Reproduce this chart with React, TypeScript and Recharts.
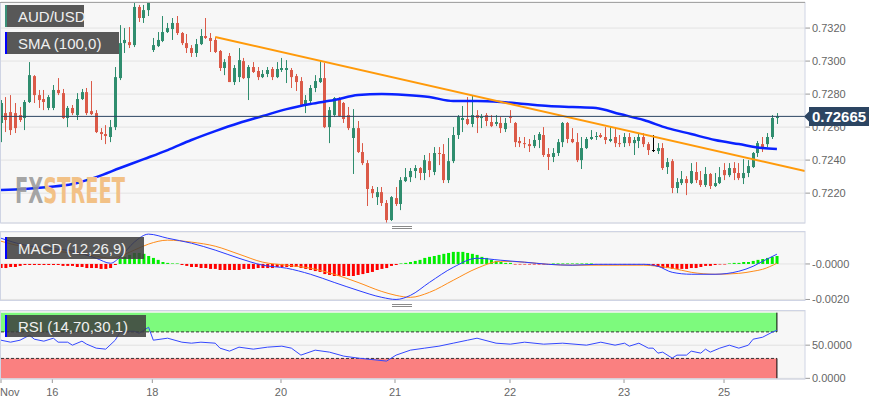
import React from 'react';
import { ComposedChart, Bar, Line, XAxis, YAxis, CartesianGrid, ReferenceLine, ReferenceArea, Cell } from 'recharts';

// [open, high, low, close] hourly candles, AUD/USD
const candles: number[][] = [
  [0.72625,0.72764,0.72509,0.72746],[0.72685,0.72782,0.72570,0.72643],[0.72691,0.72794,0.72552,0.72582],[0.72685,0.72746,0.72564,0.72594],
  [0.72673,0.72722,0.72631,0.72643],[0.72655,0.72764,0.72582,0.72752],[0.72752,0.72994,0.72746,0.72915],[0.72909,0.72915,0.72746,0.72794],
  [0.72794,0.72825,0.72716,0.72764],[0.72770,0.72825,0.72703,0.72752],[0.72716,0.72794,0.72703,0.72782],[0.72716,0.72855,0.72703,0.72825],
  [0.72825,0.72897,0.72794,0.72806],[0.72806,0.72831,0.72649,0.72655],[0.72655,0.72728,0.72600,0.72716],[0.72716,0.72734,0.72673,0.72685],
  [0.72673,0.72806,0.72643,0.72770],[0.72770,0.72831,0.72764,0.72812],[0.72812,0.72837,0.72673,0.72685],[0.72697,0.72879,0.72673,0.72679],
  [0.72685,0.72703,0.72564,0.72570],[0.72570,0.72594,0.72522,0.72558],[0.72558,0.72612,0.72497,0.72546],[0.72540,0.72643,0.72509,0.72600],
  [0.72600,0.72964,0.72582,0.72903],[0.72897,0.73218,0.72885,0.73109],[0.73109,0.73200,0.73049,0.73128],[0.73115,0.73206,0.73079,0.73097],
  [0.73097,0.73352,0.73085,0.73328],[0.73328,0.73340,0.73237,0.73261],[0.73261,0.73340,0.73231,0.73309],[0.73309,0.73358,0.73273,0.73352],
  [0.73067,0.73140,0.73055,0.73097],[0.73091,0.73176,0.73085,0.73128],[0.73122,0.73273,0.73115,0.73176],[0.73176,0.73231,0.73170,0.73200],
  [0.73194,0.73261,0.73128,0.73231],[0.73231,0.73273,0.73158,0.73170],[0.73170,0.73176,0.73097,0.73109],[0.73109,0.73164,0.73049,0.73079],
  [0.73079,0.73097,0.73025,0.73049],[0.73049,0.73134,0.73025,0.73103],[0.73103,0.73194,0.73097,0.73152],[0.73152,0.73261,0.73134,0.73140],
  [0.73140,0.73170,0.73055,0.73122],[0.73128,0.73146,0.73049,0.73055],[0.73061,0.73067,0.72940,0.72958],[0.72958,0.73012,0.72915,0.72994],
  [0.73031,0.73049,0.72873,0.72873],[0.72873,0.72976,0.72855,0.72958],[0.72903,0.73079,0.72873,0.73006],[0.73000,0.73019,0.72891,0.72897],
  [0.72897,0.72976,0.72764,0.72964],[0.72964,0.72994,0.72928,0.72934],[0.72940,0.72964,0.72885,0.72903],[0.72903,0.72946,0.72897,0.72922],
  [0.72922,0.72964,0.72903,0.72946],[0.72952,0.72964,0.72885,0.72903],[0.72903,0.72994,0.72897,0.72952],[0.72946,0.73019,0.72934,0.72958],
  [0.72946,0.73006,0.72867,0.72958],[0.72946,0.72958,0.72837,0.72903],[0.72909,0.72922,0.72819,0.72873],[0.72879,0.72903,0.72722,0.72734],
  [0.72734,0.72794,0.72685,0.72764],[0.72758,0.72855,0.72746,0.72837],[0.72837,0.72915,0.72812,0.72879],[0.72873,0.73006,0.72867,0.72897],
  [0.72897,0.72988,0.72594,0.72600],[0.72600,0.72722,0.72503,0.72703],[0.72673,0.72782,0.72661,0.72776],[0.72776,0.72782,0.72661,0.72667],
  [0.72746,0.72752,0.72625,0.72649],[0.72673,0.72722,0.72582,0.72594],[0.72534,0.72709,0.72316,0.72594],[0.72594,0.72637,0.72443,0.72449],
  [0.72449,0.72503,0.72370,0.72382],[0.72382,0.72400,0.72122,0.72225],[0.72225,0.72243,0.72170,0.72200],[0.72176,0.72237,0.72128,0.72206],
  [0.72206,0.72237,0.72122,0.72140],[0.72140,0.72158,0.72019,0.72037],[0.72037,0.72182,0.72031,0.72176],[0.72170,0.72237,0.72122,0.72134],
  [0.72134,0.72297,0.72097,0.72279],[0.72273,0.72352,0.72267,0.72297],[0.72297,0.72352,0.72267,0.72334],[0.72334,0.72370,0.72291,0.72352],
  [0.72352,0.72358,0.72279,0.72322],[0.72322,0.72431,0.72279,0.72400],[0.72394,0.72443,0.72297,0.72340],[0.72328,0.72479,0.72309,0.72443],
  [0.72443,0.72479,0.72370,0.72437],[0.72437,0.72497,0.72261,0.72279],[0.72279,0.72534,0.72261,0.72394],[0.72394,0.72600,0.72382,0.72552],
  [0.72552,0.72673,0.72528,0.72661],[0.72643,0.72728,0.72570,0.72655],[0.72649,0.72782,0.72612,0.72619],[0.72619,0.72794,0.72600,0.72673],
  [0.72673,0.72703,0.72564,0.72655],[0.72655,0.72679,0.72594,0.72661],[0.72673,0.72685,0.72606,0.72637],[0.72631,0.72673,0.72600,0.72606],
  [0.72619,0.72673,0.72606,0.72631],[0.72625,0.72661,0.72564,0.72594],[0.72588,0.72655,0.72570,0.72625],[0.72661,0.72703,0.72625,0.72655],
  [0.72625,0.72631,0.72479,0.72509],[0.72516,0.72540,0.72479,0.72503],[0.72503,0.72540,0.72473,0.72497],[0.72497,0.72528,0.72449,0.72485],
  [0.72485,0.72552,0.72473,0.72522],[0.72522,0.72570,0.72473,0.72558],[0.72552,0.72600,0.72419,0.72431],[0.72437,0.72473,0.72340,0.72419],
  [0.72419,0.72473,0.72388,0.72443],[0.72443,0.72528,0.72425,0.72509],[0.72509,0.72631,0.72479,0.72625],[0.72625,0.72631,0.72503,0.72528],
  [0.72528,0.72594,0.72503,0.72509],[0.72509,0.72564,0.72388,0.72400],[0.72400,0.72540,0.72346,0.72473],[0.72473,0.72540,0.72467,0.72528],
  [0.72528,0.72582,0.72522,0.72540],[0.72540,0.72570,0.72522,0.72546],[0.72552,0.72564,0.72534,0.72540],[0.72540,0.72600,0.72497,0.72522],
  [0.72516,0.72600,0.72509,0.72528],[0.72540,0.72594,0.72479,0.72503],[0.72503,0.72552,0.72479,0.72497],[0.72503,0.72564,0.72479,0.72540],
  [0.72540,0.72564,0.72485,0.72503],[0.72503,0.72540,0.72431,0.72522],[0.72516,0.72564,0.72473,0.72540],[0.72540,0.72564,0.72479,0.72497],
  [0.72497,0.72509,0.72431,0.72461],[0.72461,0.72552,0.72449,0.72461],[0.72455,0.72503,0.72437,0.72473],[0.72473,0.72503,0.72340,0.72352],
  [0.72358,0.72413,0.72316,0.72388],[0.72394,0.72406,0.72200,0.72231],[0.72231,0.72291,0.72200,0.72267],[0.72261,0.72334,0.72249,0.72285],
  [0.72285,0.72303,0.72188,0.72261],[0.72261,0.72382,0.72255,0.72334],[0.72328,0.72388,0.72261,0.72279],[0.72279,0.72334,0.72237,0.72249],
  [0.72249,0.72358,0.72237,0.72316],[0.72316,0.72322,0.72225,0.72243],[0.72243,0.72322,0.72237,0.72261],[0.72261,0.72358,0.72255,0.72297],
  [0.72340,0.72382,0.72279,0.72309],[0.72309,0.72382,0.72297,0.72352],[0.72352,0.72388,0.72279,0.72322],[0.72322,0.72382,0.72279,0.72291],
  [0.72291,0.72406,0.72255,0.72322],[0.72322,0.72400,0.72297,0.72364],[0.72358,0.72449,0.72352,0.72443],[0.72443,0.72516,0.72419,0.72503],
  [0.72497,0.72540,0.72449,0.72467],[0.72497,0.72564,0.72479,0.72540],[0.72540,0.72673,0.72528,0.72655],[0.72655,0.72685,0.72619,0.72665],
];

const smaIdx = [0,5,10,15,20,25,30,35,40,45,50,55,60,65,70,75,80,85,90,95,100,105,110,115,120,125,130,135,140,145,150,155,160,163];
const smaVals = [0.72219,0.72225,0.72237,0.72255,0.72297,0.72352,0.72406,0.72461,0.72522,0.72576,0.72625,0.72667,0.72709,0.72740,0.72764,0.72794,0.72800,0.72794,0.72782,0.72758,0.72758,0.72752,0.72740,0.72728,0.72722,0.72716,0.72679,0.72643,0.72594,0.72558,0.72522,0.72497,0.72473,0.72467];

const trendIdx = [45, 168.9];
const trendVals = [0.73146, 0.72334];

const lastPrice = 0.72665;

const macdIdx = [0,5,10,15,20,23,25,28,31,35,40,45,50,55,60,65,70,75,80,83,86,90,95,100,105,110,115,120,125,130,135,138,141,145,150,155,158,160,163];
const macdVals = [0.00145,0.00106,0.00089,0.00072,0.00032,0.00004,0.00038,0.00123,0.00168,0.00145,0.00117,0.00078,0.00032,-0.00007,-0.00024,-0.00058,-0.00104,-0.00149,-0.00188,-0.00200,-0.00177,-0.00104,-0.00019,0.00032,0.00021,0.0001,-0.00002,-0.00007,-0.00002,-0.00002,-0.00002,-0.00013,-0.00047,-0.00058,-0.00058,-0.00041,-0.00013,0.00015,0.00055];
const signalVals = [0.00128,0.00095,0.00078,0.00061,0.00044,0.00032,0.00044,0.00078,0.00112,0.00134,0.00123,0.001,0.00055,0.0001,-0.00007,-0.00024,-0.00058,-0.00104,-0.00155,-0.00177,-0.00188,-0.0016,-0.00092,-0.00024,0.00015,0.0001,-0.00002,-0.00007,-0.00007,-0.00007,-0.00007,-0.00013,-0.00024,-0.00047,-0.00058,-0.00053,-0.00041,-0.0003,0.00004];
const histVals = [
  -0.00023,-0.00023,-0.00017,-0.00017,-0.00011,
  -0.00006,-0.00006,-0.00006,-0.00006,-0.00006,-0.00006,-0.00006,-0.00006,
  -0.00011,-0.00011,-0.00011,-0.00017,-0.00017,-0.00023,-0.00023,-0.00023,-0.00028,-0.00028,-0.00023,
  -0.00006,
  0.00028,0.0004,0.00051,0.00062,0.00062,0.00057,0.00045,0.00034,0.00023,0.00011,0.00006,0.00003,0.00003,
  -0.00006,-0.00011,-0.00017,-0.00017,-0.00023,-0.00023,-0.00028,-0.00028,-0.00034,-0.00034,-0.00034,
  -0.00034,-0.00034,-0.00028,-0.00028,-0.00028,-0.00023,-0.00023,-0.00023,-0.00023,-0.00017,-0.00017,-0.00017,-0.00017,-0.00017,
  -0.00023,-0.00028,-0.00034,-0.0004,-0.00045,-0.00057,-0.00062,-0.00068,-0.00068,-0.00068,-0.00068,-0.00068,-0.00062,-0.00057,-0.00051,-0.00045,-0.00034,-0.00028,-0.00023,-0.00011,-0.00006,0.00003,
  0.00006,0.00011,0.00017,0.00023,0.00034,0.0004,0.00045,0.00051,0.00057,0.00062,0.00068,0.00068,0.00068,0.00062,0.00057,0.00051,0.0004,0.00034,0.00023,0.00017,0.00011,0.00006,0.00006,
  -0.00003,-0.00003,-0.00003,-0.00003,-0.00003,-0.00003,-0.00003,-0.00003,
  0.00003,0.00003,0.00003,0.00003,0.00003,0.00003,0.00003,0.00003,0.00003,
  -0.00003,-0.00003,-0.00003,-0.00003,-0.00003,-0.00003,-0.00003,-0.00003,-0.00003,-0.00003,-0.00003,
  -0.00006,-0.00011,-0.00017,-0.00023,-0.00023,-0.00028,-0.00028,-0.00028,-0.00028,-0.00023,-0.00023,-0.00017,-0.00011,-0.00011,-0.00006,-0.00003,-0.00003,
  0.00003,0.00006,0.00006,0.00011,0.00011,0.00017,0.00023,0.00028,0.00034,0.0004,0.00045,
];

const rsiIdx = [0,2,4,6,7,9,11,12,14,15,17,18,20,22,24,25,27,28,29,31,32,35,38,40,42,45,46,48,50,53,56,59,61,63,66,69,72,75,79,81,83,86,89,92,95,98,100,104,107,110,114,118,123,126,129,131,132,134,136,137,138,139,141,142,144,145,147,148,149,151,153,155,157,158,160,162,163];
const rsiVals = [57.5,54.5,57.5,65,59,56,60.5,54.5,54.5,50,56,51.5,45.5,44,57.5,69.5,71,71,68,77,57.5,60.5,54.5,53,54.5,53,45.5,41,47,44,47,48.5,45.5,35,42.5,39.5,33.5,30.5,27.5,26,35,42.5,45.5,48.5,53,57.5,60.5,53,51.5,54.5,51.5,53,50,54.5,50,53,48.5,53,45.5,45.5,38,39.5,30.5,35,35,41,38,44,39.5,45.5,50,45.5,50,59,62,69.5,72.5];

const priceTicks = [0.722, 0.724, 0.726, 0.728, 0.73, 0.732];
const macdTicks = [-0.002, 0];
const macdTickLabels = ['-0.0020', '-0.0000'];
const rsiTicks = [0, 50];
const xTickPos = [0, 10.78, 31.79, 58.82, 82.77, 106.93, 130.88, 151.89];
const xTickLabels = ['Nov', '16', '18', '20', '21', '22', '23', '25'];

const X_DOMAIN: [number, number] = [0, 168.9];
const GREEN = '#2f8d6e';
const RED = '#db5a48';
const FONT = '"Liberation Sans", Arial, Helvetica, sans-serif';

const candleData = candles.map((c, i) => ({ i, o: c[0], h: c[1], l: c[2], c: c[3], range: [c[2], c[1]], hist: histVals[i] }));
const smaData = smaIdx.map((i, k) => ({ i, v: smaVals[k] }));
const trendData = trendIdx.map((i, k) => ({ i, v: trendVals[k] }));
const macdData = macdIdx.map((i, k) => ({ i, v: macdVals[k] }));
const signalData = macdIdx.map((i, k) => ({ i, v: signalVals[k] }));
const rsiData = rsiIdx.map((i, k) => ({ i, v: rsiVals[k] }));

const Candle = (props: any) => {
  const { x, y, width, height, payload } = props;
  if (x == null || y == null) return null;
  const top = Math.min(y, y + height);
  const hh = Math.abs(height);
  const { o, h, l, c } = payload;
  const ratio = h - l > 0 ? hh / (h - l) : 0;
  const yO = top + (h - o) * ratio;
  const yC = top + (h - c) * ratio;
  const color = c > o ? GREEN : c < o ? RED : '#000';
  const px = Math.round(x + width / 2);
  const bTop = Math.min(yO, yC);
  const bH = Math.max(1, Math.abs(yO - yC));
  return (
    <g>
      <line x1={px + 0.5} x2={px + 0.5} y1={top} y2={top + hh} stroke={color} strokeWidth={1} />
      <rect x={px - 1} y={bTop} width={3} height={bH} fill={color} />
    </g>
  );
};

const XTick = (props: any) => {
  const { x, y, index } = props;
  const first = index === 0;
  return (
    <text x={first ? x - 1 : x} y={y} dy="0.71em" textAnchor={first ? 'start' : 'middle'} fill="#666" fontSize={11} fontFamily={FONT}>
      {xTickLabels[index]}
    </text>
  );
};

const yAxisCommon = {
  orientation: 'right' as const,
  width: 70,
  tickSize: 5,
  tickMargin: 2,
  axisLine: false,
  tickLine: { stroke: '#999' },
  tick: { fill: '#666', fontSize: 11 },
  allowDataOverflow: true,
  interval: 0 as const,
};

const LabelBox = ({ x, y, w, h, bar, text }: { x: number; y: number; w: number; h: number; bar: string; text: string }) => (
  <g>
    <rect x={x} y={y} width={2} height={h} fill={bar} />
    <rect x={x + 2} y={y} width={w} height={h} fill="rgba(62,62,62,0.86)" />
    <text x={x + 13} y={y + h - 5} fill="#f0f0f0" fontSize={15} fontFamily={FONT}>{text}</text>
  </g>
);

export default function App() {
  return (
    <div style={{ position: 'absolute', left: 0, top: 0, width: 875, height: 405, background: '#fff', fontFamily: FONT }}>
      <div style={{ position: 'absolute', left: 0, top: 0 }}>
        <ComposedChart width={875} height={225} data={candleData} margin={{ top: 2, right: 0, bottom: 2, left: 1 }}>
          <CartesianGrid vertical={false} stroke="#e3e3e3" fill="#f7f7f7" />
          <XAxis type="number" dataKey="i" domain={X_DOMAIN} hide allowDataOverflow />
          <YAxis {...yAxisCommon} domain={[0.72019, 0.73358]} ticks={priceTicks} tickFormatter={(v: number) => v.toFixed(4)} />
          <Bar dataKey="range" barSize={4} shape={Candle} isAnimationActive={false} />
          <Line data={smaData} dataKey="v" type="monotone" stroke="#0a22ff" strokeWidth={2.5} dot={false} isAnimationActive={false} />
          <Line data={trendData} dataKey="v" type="linear" stroke="#ff9a0a" strokeWidth={2} dot={false} isAnimationActive={false} />
          <ReferenceLine y={lastPrice} stroke="#2c4562" strokeWidth={1} />
        </ComposedChart>
      </div>
      <div style={{ position: 'absolute', left: 0, top: 230 }}>
        <ComposedChart width={875} height={80} data={candleData} margin={{ top: 2, right: 0, bottom: 10, left: 1 }}>
          <CartesianGrid vertical={false} stroke="#e3e3e3" fill="#f7f7f7" />
          <XAxis type="number" dataKey="i" domain={X_DOMAIN} hide allowDataOverflow />
          <YAxis {...yAxisCommon} domain={[-0.00203, 0.0018]} ticks={macdTicks} tickFormatter={(v: number, i: number) => macdTickLabels[i]} />
          <Bar dataKey="hist" barSize={3} isAnimationActive={false}>
            {candleData.map((d, k) => (
              <Cell key={k} fill={d.hist >= 0 ? '#00ee00' : '#ff0000'} />
            ))}
          </Bar>
          <Line data={signalData} dataKey="v" type="monotone" stroke="#ff8c1a" strokeWidth={1} dot={false} isAnimationActive={false} />
          <Line data={macdData} dataKey="v" type="monotone" stroke="#2a3cff" strokeWidth={1} dot={false} isAnimationActive={false} />
        </ComposedChart>
      </div>
      <div style={{ position: 'absolute', left: 0, top: 308 }}>
        <ComposedChart width={875} height={97} data={rsiData} margin={{ top: 3, right: 0, bottom: 2, left: 1 }}>
          <CartesianGrid vertical={false} stroke="#e0e0e0" fill="#f7f7f7" />
          <XAxis type="number" dataKey="i" domain={X_DOMAIN} allowDataOverflow ticks={xTickPos} interval={0} tick={XTick} tickLine={{ stroke: '#999' }} tickSize={4} tickMargin={5} axisLine={false} height={24} />
          <YAxis {...yAxisCommon} domain={[-1, 101.5]} ticks={rsiTicks} tickFormatter={(v: number) => v.toFixed(4)} />
          <ReferenceArea x1={0} x2={163} y1={70} y2={99} fill="#7dfa7d" fillOpacity={1} stroke="none" />
          <ReferenceArea x1={0} x2={163} y1={0} y2={30} fill="#fa8080" fillOpacity={1} stroke="none" />
          <ReferenceLine segment={[{ x: 0, y: 70 }, { x: 163, y: 70 }]} stroke="#333" strokeDasharray="3 2" />
          <ReferenceLine segment={[{ x: 0, y: 30 }, { x: 163, y: 30 }]} stroke="#333" strokeDasharray="3 2" />
          <ReferenceLine segment={[{ x: 163, y: 70 }, { x: 163, y: 99 }]} stroke="#000" />
          <ReferenceLine segment={[{ x: 163, y: 0 }, { x: 163, y: 30 }]} stroke="#000" />
          <Line dataKey="v" type="linear" stroke="#3448ff" strokeWidth={1} dot={false} isAnimationActive={false} />
        </ComposedChart>
      </div>
      <svg width={875} height={405} style={{ position: 'absolute', left: 0, top: 0, pointerEvents: 'none' }}>
        {/* watermark */}
        <text x={15} y={203} fontFamily='"DejaVu Sans Condensed", "DejaVu Sans", sans-serif' fontWeight="bold" fontSize={35} textLength={110} lengthAdjust="spacingAndGlyphs">
          <tspan fill="#9a9a9a" fillOpacity={0.9}>FX</tspan>
          <tspan fill="#f2c186">STREET</tspan>
        </text>
        {/* pane borders */}
        <rect x={0.5} y={2.5} width={804.5} height={220.5} fill="none" stroke="#cfd4e4" />
        <line x1={0} x2={805} y1={2.5} y2={2.5} stroke="#a5a5a5" />
        <rect x={0.5} y={231.5} width={804.5} height={69} fill="none" stroke="#cfd4e4" />
        <rect x={0.5} y={310.5} width={804.5} height={68.5} fill="none" stroke="#cfd4e4" />
        {/* pane handles */}
        <line x1={392} x2={412} y1={226.5} y2={226.5} stroke="#8a8a8a" />
        <line x1={392} x2={412} y1={228.5} y2={228.5} stroke="#8a8a8a" />
        <line x1={392} x2={412} y1={304.5} y2={304.5} stroke="#8a8a8a" />
        <line x1={392} x2={412} y1={306.5} y2={306.5} stroke="#8a8a8a" />
        {/* labels */}
        <LabelBox x={5} y={5} w={77} h={22} bar="#3a9078" text="AUD/USD" />
        <LabelBox x={5} y={32} w={112} h={22} bar="#0000ff" text="SMA (100,0)" />
        <LabelBox x={5} y={237} w={137} h={22} bar="#0000ff" text="MACD (12,26,9)" />
        <LabelBox x={5} y={315} w={139} h={22} bar="#0000ff" text="RSI (14,70,30,1)" />
        {/* last price tag */}
        <polygon points="804,116.5 809,111.5 809,107 869,107 869,126 809,126 809,121.5" fill="#2c4562" />
        <text x={839} y={122} textAnchor="middle" fill="#fff" fontSize={15} fontWeight="bold" fontFamily={FONT}>0.72665</text>
      </svg>
    </div>
  );
}
